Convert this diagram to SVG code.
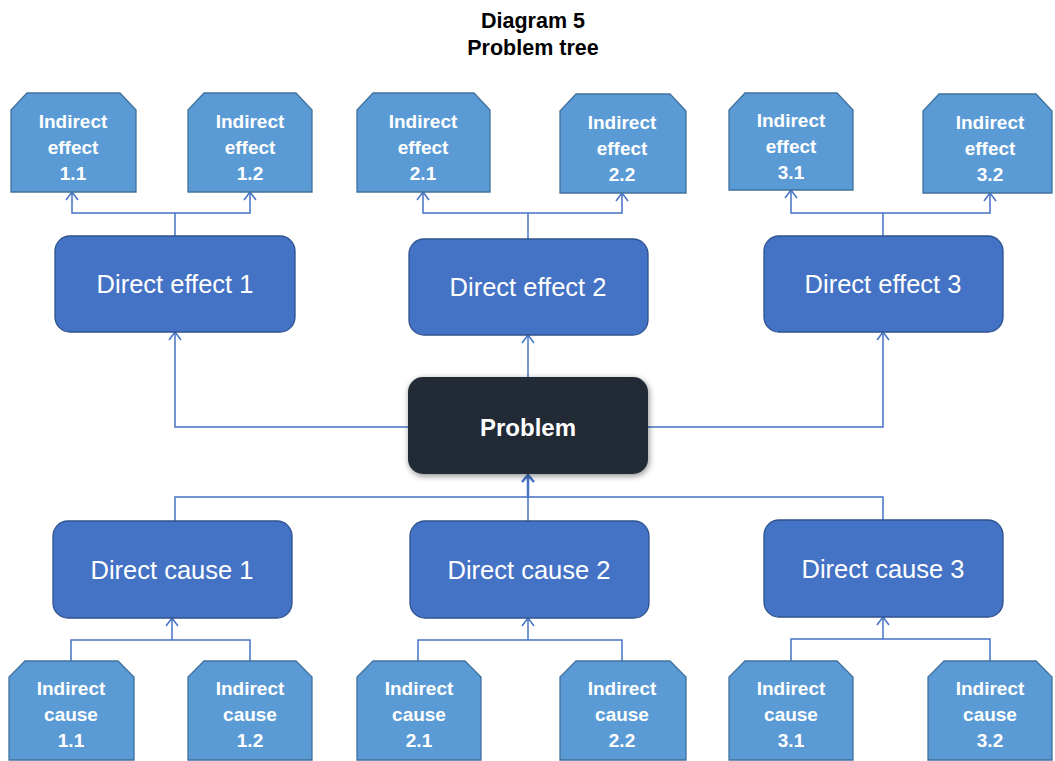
<svg xmlns="http://www.w3.org/2000/svg" width="1055" height="761" viewBox="0 0 1055 761">
<defs>
<style>
.ind{fill:#5b9bd5;stroke:#41719c;stroke-width:1.3}
.dir{fill:#4472c4;stroke:#2f528f;stroke-width:1.3}
.it{font-family:"Liberation Sans",Arial,sans-serif;font-weight:bold;font-size:19px;fill:#fff;text-anchor:middle}
.dt{font-family:"Liberation Sans",Arial,sans-serif;font-size:25.5px;fill:#fff;text-anchor:middle}
.ttl{font-family:"Liberation Sans",Arial,sans-serif;font-weight:bold;font-size:21.5px;fill:#000;text-anchor:middle}
.con{fill:none;stroke:#4472c4;stroke-width:1.5}
</style>
<marker id="arr" markerUnits="userSpaceOnUse" markerWidth="14" markerHeight="14" refX="10" refY="7" orient="auto-start-reverse" viewBox="0 0 14 14">
<polyline points="2,1 10,7 2,13" fill="none" stroke="#4472c4" stroke-width="1.5"/>
</marker>
<marker id="arrB" markerUnits="userSpaceOnUse" markerWidth="14" markerHeight="14" refX="10" refY="7" orient="auto" viewBox="0 0 14 14">
<polyline points="3,1 10,7 3,13" fill="none" stroke="#4472c4" stroke-width="2.5"/>
</marker>
<filter id="sh" x="-10%" y="-10%" width="125%" height="130%">
<feDropShadow dx="1" dy="2" stdDeviation="3" flood-color="#000" flood-opacity="0.45"/>
</filter>
</defs>
<rect width="1055" height="761" fill="#fff"/>
<g id="title">
<text class="ttl" x="533" y="28">Diagram 5</text>
<text class="ttl" x="533" y="55">Problem tree</text>
</g>
<g id="connectors">
<polyline class="con" points="72,192 72,213 250,213 250,192" marker-start="url(#arr)" marker-end="url(#arr)"/>
<line class="con" x1="175" y1="213" x2="175" y2="236"/>
<polyline class="con" points="423,192 423,213 622,213 622,193" marker-start="url(#arr)" marker-end="url(#arr)"/>
<line class="con" x1="528" y1="213" x2="528" y2="239"/>
<polyline class="con" points="791,190 791,213 990,213 990,193" marker-start="url(#arr)" marker-end="url(#arr)"/>
<line class="con" x1="883" y1="213" x2="883" y2="236"/>
<polyline class="con" points="408,427 175,427 175,332" marker-end="url(#arr)"/>
<polyline class="con" points="648,427 883,427 883,332" marker-end="url(#arr)"/>
<line class="con" x1="528" y1="377" x2="528" y2="335" marker-end="url(#arr)"/>
<polyline class="con" points="175,521 175,497 883,497 883,520"/>
<line class="con" x1="528" y1="521" x2="528" y2="497"/>
<line x1="528" y1="497" x2="528" y2="475" stroke="#4472c4" stroke-width="2.5" marker-end="url(#arrB)"/>
<polyline class="con" points="71,661 71,640 250,640 250,661"/>
<line class="con" x1="172" y1="640" x2="172" y2="618" marker-end="url(#arr)"/>
<polyline class="con" points="418,661 418,640 622,640 622,661"/>
<line class="con" x1="528" y1="640" x2="528" y2="618" marker-end="url(#arr)"/>
<polyline class="con" points="791,661 791,639 990,639 990,661"/>
<line class="con" x1="883" y1="639" x2="883" y2="617" marker-end="url(#arr)"/>
</g>
<g id="ie11"><polygon class="ind" points="27,93 120,93 136,110 136,192 11,192 11,110"/><text class="it" x="73" y="128">Indirect</text><text class="it" x="73" y="154">effect</text><text class="it" x="73" y="180">1.1</text></g>
<g id="ie12"><polygon class="ind" points="204,93 296,93 312,110 312,192 188,192 188,110"/><text class="it" x="250" y="128">Indirect</text><text class="it" x="250" y="154">effect</text><text class="it" x="250" y="180">1.2</text></g>
<g id="ie21"><polygon class="ind" points="373,93 474,93 490,110 490,192 357,192 357,110"/><text class="it" x="423" y="128">Indirect</text><text class="it" x="423" y="154">effect</text><text class="it" x="423" y="180">2.1</text></g>
<g id="ie22"><polygon class="ind" points="576,94 670,94 686,111 686,193 560,193 560,111"/><text class="it" x="622" y="129">Indirect</text><text class="it" x="622" y="155">effect</text><text class="it" x="622" y="181">2.2</text></g>
<g id="ie31"><polygon class="ind" points="745,93 837,93 853,110 853,190 729,190 729,110"/><text class="it" x="791" y="127">Indirect</text><text class="it" x="791" y="153">effect</text><text class="it" x="791" y="179">3.1</text></g>
<g id="ie32"><polygon class="ind" points="939,94 1036,94 1052,111 1052,193 923,193 923,111"/><text class="it" x="990" y="129">Indirect</text><text class="it" x="990" y="155">effect</text><text class="it" x="990" y="181">3.2</text></g>
<g id="de1"><rect class="dir" x="55" y="236" width="240" height="96" rx="15"/><text class="dt" x="175" y="293">Direct effect 1</text></g>
<g id="de2"><rect class="dir" x="409" y="239" width="239" height="96" rx="15"/><text class="dt" x="528" y="296">Direct effect 2</text></g>
<g id="de3"><rect class="dir" x="764" y="236" width="239" height="96" rx="15"/><text class="dt" x="883" y="293">Direct effect 3</text></g>
<g id="problem"><rect x="408" y="377" width="240" height="97" rx="15" fill="#222a35" filter="url(#sh)"/><text x="528" y="436" font-family="Liberation Sans,Arial,sans-serif" font-weight="bold" font-size="24" fill="#fff" text-anchor="middle">Problem</text></g>
<g id="dc1"><rect class="dir" x="53" y="521" width="239" height="97" rx="15"/><text class="dt" x="172" y="579">Direct cause 1</text></g>
<g id="dc2"><rect class="dir" x="410" y="521" width="239" height="97" rx="15"/><text class="dt" x="529" y="579">Direct cause 2</text></g>
<g id="dc3"><rect class="dir" x="764" y="520" width="239" height="97" rx="15"/><text class="dt" x="883" y="578">Direct cause 3</text></g>
<g id="ic11"><polygon class="ind" points="25,661 118,661 134,677 134,760 9,760 9,677"/><text class="it" x="71" y="695">Indirect</text><text class="it" x="71" y="721">cause</text><text class="it" x="71" y="747">1.1</text></g>
<g id="ic12"><polygon class="ind" points="204,661 296,661 312,677 312,760 188,760 188,677"/><text class="it" x="250" y="695">Indirect</text><text class="it" x="250" y="721">cause</text><text class="it" x="250" y="747">1.2</text></g>
<g id="ic21"><polygon class="ind" points="373,661 465,661 481,677 481,760 357,760 357,677"/><text class="it" x="419" y="695">Indirect</text><text class="it" x="419" y="721">cause</text><text class="it" x="419" y="747">2.1</text></g>
<g id="ic22"><polygon class="ind" points="576,661 670,661 686,677 686,760 560,760 560,677"/><text class="it" x="622" y="695">Indirect</text><text class="it" x="622" y="721">cause</text><text class="it" x="622" y="747">2.2</text></g>
<g id="ic31"><polygon class="ind" points="745,661 837,661 853,677 853,760 729,760 729,677"/><text class="it" x="791" y="695">Indirect</text><text class="it" x="791" y="721">cause</text><text class="it" x="791" y="747">3.1</text></g>
<g id="ic32"><polygon class="ind" points="944,661 1036,661 1052,677 1052,760 928,760 928,677"/><text class="it" x="990" y="695">Indirect</text><text class="it" x="990" y="721">cause</text><text class="it" x="990" y="747">3.2</text></g>
</svg>
